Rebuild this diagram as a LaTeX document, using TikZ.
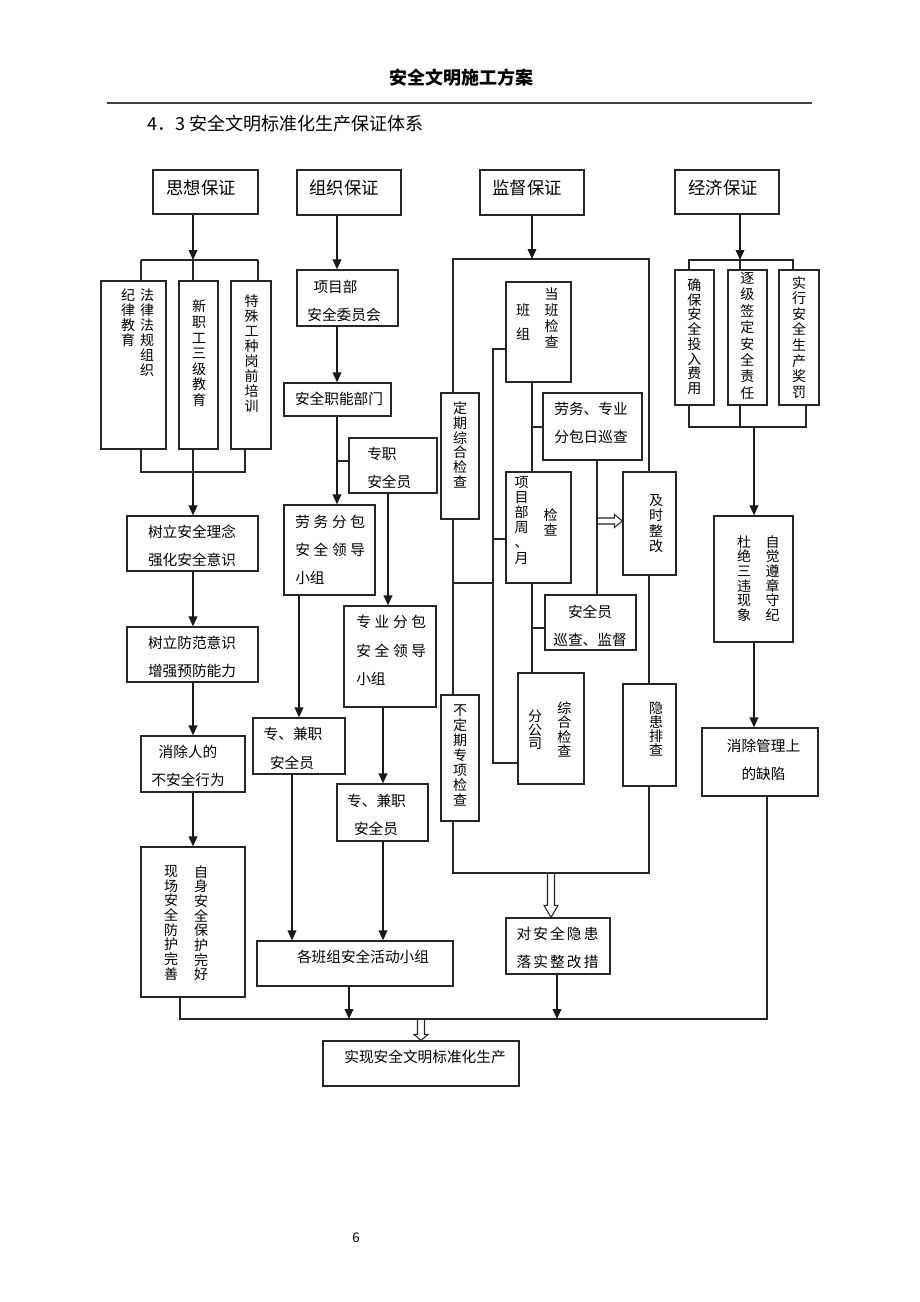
\documentclass[tikz,border=0pt]{standalone}
\usepackage{fontspec}
\setmainfont{Noto Sans CJK SC}
\usetikzlibrary{fit,arrows.meta,calc}
\newcommand\nolsl{\setlength{\lineskiplimit}{-50pt}}
\tikzset{
 box/.style={draw=black!85,line width=0.9pt,inner sep=0pt},
 tx/.style={inner sep=0pt,align=center,font=\fontsize{11}{21}\selectfont},
 tl/.style={inner sep=0pt,anchor=west,font=\fontsize{11}{13}\selectfont},
 vt/.style={inner sep=0pt,align=center,font={\fontsize{10.5}{#1}\selectfont\nolsl}},
 hd/.style={inner sep=0pt,font=\fontsize{13}{16}\selectfont},
 ln/.style={draw=black!85,line width=0.9pt},
 ar/.style={draw=black!90,line width=1.2pt,-{Triangle[length=7.5pt,width=6.5pt]}},
 dbl/.style={draw=black!85,line width=0.8pt,fill=white,line join=miter},
}
\newcommand\mkbox[5]{\node[box,fit={(#2,#3) (#4,#5)}] (#1) {};}
\newcommand\kgap{\hspace{2.8pt}}
\newcommand\kgapb{\hspace{1.6pt}}
\newcommand\dblv[3]{\draw[dbl] ($(#1)+(-3.5,0)$) -- ($(#2)+(-3.5,-#3)$) -- ($(#2)+(-7,-#3)$) -- (#2) -- ($(#2)+(7,-#3)$) -- ($(#2)+(3.5,-#3)$) -- ($(#1)+(3.5,0)$);}
\newcommand\dblh[3]{\draw[dbl] ($(#1)+(0,-3)$) -- ($(#2)+(-#3,-3)$) -- ($(#2)+(-#3,-6.5)$) -- (#2) -- ($(#2)+(-#3,6.5)$) -- ($(#2)+(-#3,3)$) -- ($(#1)+(0,3)$);}
\begin{document}
\begin{tikzpicture}[x=0.75pt,y=-0.75pt]
\fill[white] (0,0) rectangle (920,1302);
\path[use as bounding box] (0,0) rectangle (920,1302);

% header
\node[font=\fontsize{13.5}{16}\selectfont\bfseries] (title) at (461,78) {安全文明施工方案};
\draw[line width=1.1pt,draw=black!75] (107,103) -- (812,103);
\node[anchor=west,inner sep=0pt,font=\fontsize{13.5}{16}\selectfont] (sec) at (147,124) {4．3 安全文明标准化生产保证体系};

% ---------- boxes ----------
\mkbox{A0}{153}{170}{258}{214}
\mkbox{A1}{101}{281}{166}{449}
\mkbox{A2}{179}{281}{218}{449}
\mkbox{A3}{231}{281}{271}{449}
\mkbox{A4}{127}{516}{258}{571}
\mkbox{A5}{127}{627}{258}{682}
\mkbox{A6}{141}{736}{245}{792}
\mkbox{A7}{141}{847}{245}{997}

\mkbox{B0}{297}{170}{401}{215}
\mkbox{B1}{297}{270}{398}{326}
\mkbox{B2}{284}{383}{391}{416}
\mkbox{B3}{349}{438}{437}{493}
\mkbox{B4}{284}{505}{375}{595}
\mkbox{B5}{344}{606}{436}{707}
\mkbox{B6}{253}{718}{345}{774}
\mkbox{B7}{337}{784}{428}{841}
\mkbox{B8}{257}{941}{453}{986}

\mkbox{C0}{480}{170}{584}{215}
\mkbox{C1}{506}{282}{571}{382}
\mkbox{C2}{441}{393}{479}{519}
\mkbox{C3}{543}{393}{642}{460}
\mkbox{C4}{506}{472}{571}{583}
\mkbox{C5}{545}{595}{636}{650}
\mkbox{C6}{518}{673}{584}{784}
\mkbox{C7}{441}{695}{479}{821}
\mkbox{C8}{623}{472}{676}{575}
\mkbox{C9}{623}{684}{676}{786}
\mkbox{C10}{506}{918}{610}{974}

\mkbox{D0}{675}{170}{779}{214}
\mkbox{D1}{675}{270}{714}{405}
\mkbox{D2}{728}{270}{767}{405}
\mkbox{D3}{779}{270}{819}{405}
\mkbox{D4}{714}{516}{793}{642}
\mkbox{D5}{702}{728}{818}{796}

\mkbox{E}{323}{1041}{519}{1086}

% ---------- texts ----------
\node[hd] (tA0) at (201,188) {思想保证};
\node[vt=11.25] (tA1a) at (147,332.5) {法\\律\\法\\规\\组\\织};
\node[vt=11.25] (tA1b) at (128,317.5) {纪\\律\\教\\育};
\node[vt=11.7] (tA2) at (199,353.3) {新\\职\\工\\三\\级\\教\\育};
\node[vt=11.25] (tA3) at (251.5,354) {特\\殊\\工\\种\\岗\\前\\培\\训};
\node[tx] (tA4) at (192,546) {树立安全理念\\强化安全意识};
\node[tx] (tA5) at (192,656.5) {树立防范意识\\增强预防能力};
\node[tx] (tA6) at (188,766) {消除人的\\不安全行为};
\node[vt=11] (tA7a) at (171,923) {现\\场\\安\\全\\防\\护\\完\\善};
\node[vt=11] (tA7b) at (201,923) {自\\身\\安\\全\\保\\护\\完\\好};

\node[hd] (tB0) at (344,188) {组织保证};
\node[tx] (tB1a) at (335.5,287) {项目部};
\node[tx] (tB1b) at (344,315) {安全委员会};
\node[tx] (tB2) at (339,399) {安全职能部门};
\node[tl] (tB3a) at (367,454) {专职};
\node[tl] (tB3b) at (367,482) {安全员};
\node[tl] (tB4a) at (295,521.7) {劳\kgap 务\kgap 分\kgap 包};
\node[tl] (tB4b) at (295,550) {安\kgap 全\kgap 领\kgap 导};
\node[tl] (tB4c) at (295,577.7) {小组};
\node[tl] (tB5a) at (356,621.7) {专\kgap 业\kgap 分\kgap 包};
\node[tl] (tB5b) at (356,650.7) {安\kgap 全\kgap 领\kgap 导};
\node[tl] (tB5c) at (356,679) {小组};
\node[tx] (tB6a) at (293,734) {专、兼职};
\node[tx] (tB6b) at (292,762.7) {安全员};
\node[tx] (tB7a) at (376.5,800.7) {专、兼职};
\node[tx] (tB7b) at (376,829.3) {安全员};
\node[tx] (tB8) at (363,956.7) {各班组安全活动小组};

\node[hd] (tC0) at (527,188) {监督保证};
\node[vt=12] (tC1a) at (551.7,318) {当\\班\\检\\查};
\node[vt=17.5] (tC1b) at (523,322) {班\\组};
\node[vt=11] (tC2) at (460,445) {定\\期\\综\\合\\检\\查};
\node[tx] (tC3) at (591,423) {劳务、专业\\分包日巡查};
\node[vt=11.4] (tC4a) at (521.7,520) {项\\目\\部\\周\\、\\月};
\node[vt=11.25] (tC4b) at (550.7,522.5) {检\\查};
\node[tx] (tC5) at (590,626) {安全员\\巡查、监督};
\node[vt=10] (tC6a) at (535,730) {分\\公\\司};
\node[vt=10.7] (tC6b) at (564.3,729.3) {综\\合\\检\\查};
\node[vt=11.25] (tC7) at (460,755) {不\\定\\期\\专\\项\\检\\查};
\node[vt=11.5] (tC8) at (656,523.7) {及\\时\\整\\改};
\node[vt=10.4] (tC9) at (656,729) {隐\\患\\排\\查};
\node[tx] (tC10) at (557.5,948) {对\kgapb 安\kgapb 全\kgapb 隐\kgapb 患\\落\kgapb 实\kgapb 整\kgapb 改\kgapb 措};

\node[hd] (tD0) at (723,188) {经济保证};
\node[vt=11.07] (tD1) at (694.3,336.7) {确\\保\\安\\全\\投\\入\\费\\用};
\node[vt=12.3] (tD2) at (747.3,335.8) {逐\\级\\签\\定\\安\\全\\责\\任};
\node[vt=11.7] (tD3) at (799,337.2) {实\\行\\安\\全\\生\\产\\奖\\罚};
\node[vt=11] (tD4a) at (744,578.3) {杜\\绝\\三\\违\\现\\象};
\node[vt=11] (tD4b) at (772.7,578.3) {自\\觉\\遵\\章\\守\\纪};
\node[tx] (tD5) at (763.5,760) {消除管理上\\的缺陷};

\node[tx] (tE) at (425,1057) {实现安全文明标准化生产};
\node[inner sep=0pt,font=\fontsize{10}{12}\selectfont] (pg) at (356,1238) {6};

% ---------- coordinates ----------
\coordinate (aJ) at (193,260); \coordinate (aL) at (141,260); \coordinate (aR) at (258,260);
\coordinate (aJ2) at (193,472); \coordinate (aL2) at (141,472); \coordinate (aR2) at (245,472);
\coordinate (busL) at (180,1019); \coordinate (busR) at (767,1019);
\coordinate (busB) at (349,1019); \coordinate (busC) at (557,1019); \coordinate (busE) at (421,1019);
\coordinate (bX) at (337,0); \coordinate (bJ) at (337,461);
\coordinate (b3X) at (388,0); \coordinate (b4X) at (299,0); \coordinate (b5X) at (383,0); \coordinate (b6X) at (292,0);
\coordinate (cJ) at (532,259); \coordinate (cL) at (453,259); \coordinate (cR) at (649,259);
\coordinate (cT) at (453,583); \coordinate (cT2) at (493,583);
\coordinate (v1) at (493,349); \coordinate (v2) at (493,539); \coordinate (v3) at (493,763);
\coordinate (cM) at (532,0); \coordinate (cM1) at (532,427); \coordinate (cM2) at (532,628);
\coordinate (c3X) at (597,0); \coordinate (cH) at (597,521);
\coordinate (cBL) at (453,873); \coordinate (cBR) at (649,873); \coordinate (cD) at (551,873);
\coordinate (c10X) at (557,0);
\coordinate (dJ) at (740,260); \coordinate (dL) at (689,260); \coordinate (dR) at (793,260);
\coordinate (dL2) at (689,427); \coordinate (dM2) at (740,427); \coordinate (dR2) at (806,427); \coordinate (dJ2) at (754,427);

% ---------- double arrows ----------
\coordinate (cHe) at (cH -| C8.west);
\dblh{cH}{cHe}{8}
\coordinate (cDe) at (cD |- C10.north);
\dblv{cD}{cDe}{12}
\coordinate (Ee) at (busE |- E.north);
\dblv{busE}{Ee}{6}

% ---------- column A ----------
\draw[ar] (A0.south -| aJ) -- (aJ);
\draw[ln] (aL) -- (aR);
\draw[ln] (aL) -- (aL |- A1.north);
\draw[ln] (aJ) -- (aJ |- A2.north);
\draw[ln] (aR) -- (aR |- A3.north);
\draw[ln] (aL |- A1.south) -- (aL2) -- (aR2) -- (aR2 |- A3.south);
\draw[ln] (aJ2 |- A2.south) -- (aJ2);
\draw[ar] (aJ2) -- (aJ2 |- A4.north);
\draw[ar] (A4.south -| aJ) -- (A5.north -| aJ);
\draw[ar] (A5.south -| aJ) -- (A6.north -| aJ);
\draw[ar] (A6.south -| aJ) -- (A7.north -| aJ);

% ---------- column B ----------
\draw[ar] (B0.south -| bX) -- (B1.north -| bX);
\draw[ar] (B1.south -| bX) -- (B2.north -| bX);
\draw[ar] (B2.south -| bX) -- (B4.north -| bX);
\draw[ln] (bJ) -- (bJ -| B3.west);
\draw[ar] (B3.south -| b3X) -- (B5.north -| b3X);
\draw[ar] (B4.south -| b4X) -- (B6.north -| b4X);
\draw[ar] (B5.south -| b5X) -- (B7.north -| b5X);
\draw[ar] (B6.south -| b6X) -- (B8.north -| b6X);
\draw[ar] (B7.south -| b5X) -- (B8.north -| b5X);

% ---------- column C ----------
\draw[ar] (C0.south -| cJ) -- (cJ);
\draw[ln] (cL |- C2.north) -- (cL) -- (cR) -- (cR |- C8.north);
\draw[ln] (C2.south -| cL) -- (C7.north -| cL);
\draw[ln] (cT) -- (cT2);
\draw[ln] (C1.west |- v1) -- (v1) -- (v3) -- (v3 -| C6.west);
\draw[ln] (v2) -- (v2 -| C4.west);
\draw[ln] (C1.south -| cM) -- (C4.north -| cM);
\draw[ln] (cM1) -- (cM1 -| C3.west);
\draw[ln] (C4.south -| cM) -- (C6.north -| cM);
\draw[ln] (cM2) -- (cM2 -| C5.west);
\draw[ln] (C3.south -| c3X) -- (C5.north -| c3X);
\draw[ln] (C8.south -| cR) -- (C9.north -| cR);
\draw[ln] (C7.south -| cBL) -- (cBL) -- (cBR) -- (cBR |- C9.south);

% ---------- column D ----------
\draw[ar] (D0.south -| dJ) -- (dJ);
\draw[ln] (dL |- D1.north) -- (dL) -- (dR) -- (dR |- D3.north);
\draw[ln] (dJ) -- (dJ |- D2.north);
\draw[ln] (dL |- D1.south) -- (dL2) -- (dR2) -- (dR2 |- D3.south);
\draw[ln] (dM2 |- D2.south) -- (dM2);
\draw[ar] (dJ2) -- (dJ2 |- D4.north);
\draw[ar] (D4.south -| dJ2) -- (D5.north -| dJ2);

% ---------- bottom bus ----------
\draw[ln] (A7.south -| busL) -- (busL) -- (busR) -- (D5.south -| busR);
\draw[ar] (B8.south -| busB) -- (busB);
\draw[ar] (C10.south -| c10X) -- (busC);
\end{tikzpicture}
\end{document}
